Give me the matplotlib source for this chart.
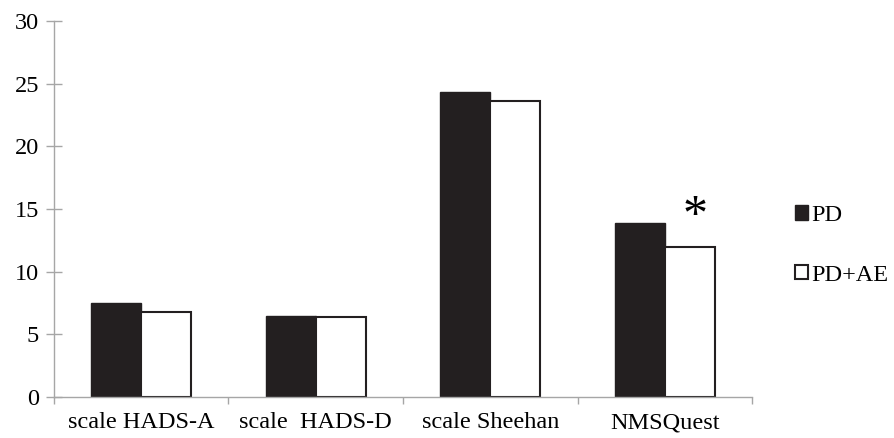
import numpy as np
from matplotlib import pyplot as plt
from matplotlib.ticker import FixedLocator

# Scale names and group means
categories = ['scale HADS-A', 'scale  HADS-D', 'scale Sheehan', 'NMSQuest']
pd_vals = [7.5, 6.5, 24.3, 13.9]
pd_ae_vals = [6.8, 6.4, 23.6, 12.0]

plt.rcParams['font.family'] = ['Liberation Serif', 'DejaVu Serif']

fig = plt.figure(figsize=(8.95, 4.38), dpi=100)
ax = fig.add_axes([0.06, 0.0936, 0.7806, 0.8584])

x = np.arange(len(categories))
w = 0.286
ax.bar(x - w / 2, pd_vals, w, color='#231f20', edgecolor='#231f20', linewidth=1, label='PD')
ax.bar(x + w / 2, pd_ae_vals, w, color='white', edgecolor='#231f20', linewidth=1.5, label='PD+AE')

# significance mark over NMSQuest
ax.text(x[3] + w / 2 + 0.03, pd_ae_vals[3] + 2.4, '*', fontsize=36, ha='center', va='center')

ax.set_xlim(-0.5, len(categories) - 0.5)
ax.set_ylim(0, 30)
ax.set_yticks(np.arange(0, 31, 5))
ax.set_xticks(x)
ax.set_xticklabels(categories, fontsize=17.5)
ax.xaxis.set_minor_locator(FixedLocator(np.arange(-0.5, len(categories), 1)))
ax.tick_params(axis='x', which='major', length=0, pad=11)
ax.tick_params(axis='x', which='minor', length=5, width=1, color='#a6a6a6', direction='out')
ax.tick_params(axis='y', length=11, width=1, color='#a6a6a6', direction='inout', labelsize=17.5, pad=5)

for s in ['top', 'right']:
    ax.spines[s].set_visible(False)
for s in ['left', 'bottom']:
    ax.spines[s].set_color('#a6a6a6')
    ax.spines[s].set_linewidth(1)

ax.legend(loc='center left', bbox_to_anchor=(0.888, 0.44), bbox_transform=fig.transFigure,
          frameon=False, fontsize=17.5, handlelength=0.55, handleheight=0.55,
          handletextpad=0.15, labelspacing=1.6, borderaxespad=0, borderpad=0)

plt.savefig('out.png', dpi=100)
